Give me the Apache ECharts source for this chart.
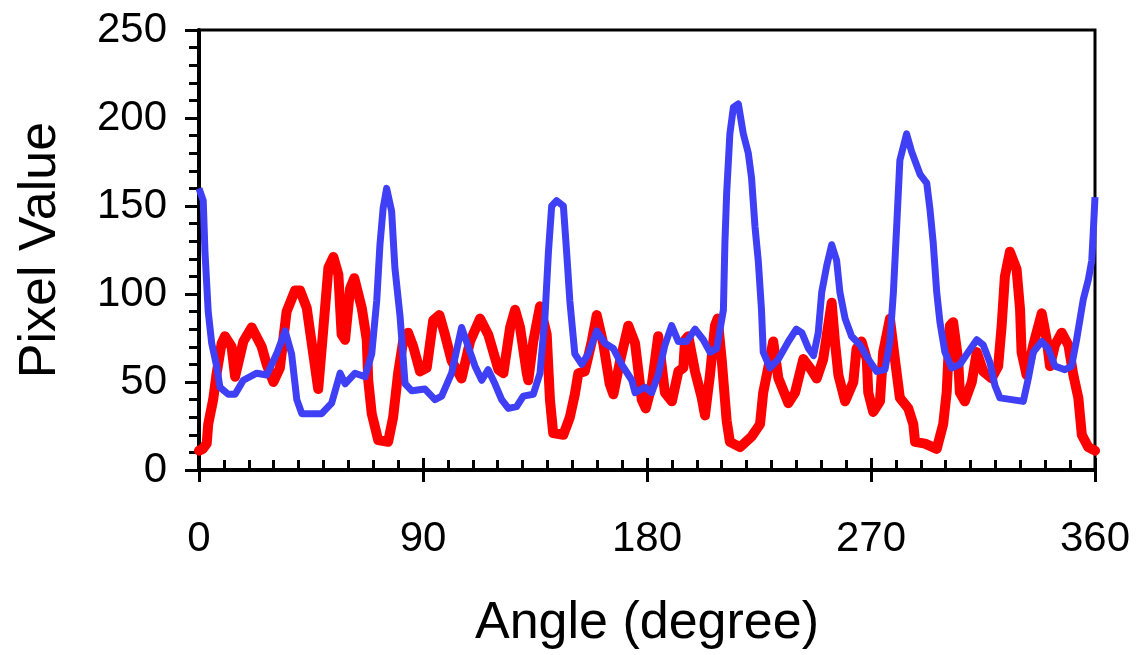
<!DOCTYPE html>
<html>
<head>
<meta charset="utf-8">
<script src="https://cdn.jsdelivr.net/npm/echarts@6/dist/echarts.min.js"></script>
<style>
html, body { margin: 0; padding: 0; background: #fff; }
#main { width: 1136px; height: 655px; }
</style>
</head>
<body>
<div id="main"></div>
<script>
// red trace (angle in degree, pixel value)
var redAngle = [0, 1.5, 3.1, 3.7, 5.7, 7.1, 9.1, 10.4, 13.1, 14.5, 17.8, 21.2, 25.2, 27.2, 29.9, 32.5, 35.2, 38.6, 40.6, 43.3,
	45.9, 47.9, 50, 52, 54, 56, 57.3, 58.7, 60.7, 62.4, 65.4, 67.4, 68, 69.4, 72, 76, 78, 80, 82, 84,
	86.1, 88.8, 91.5, 94.1, 96.6, 98.8, 101.5, 105.5, 108.9, 112.9, 116.2, 120.3, 122.3, 125, 127, 129, 131.7, 132.3, 134.3, 137,
	139.7, 141, 142.3, 146.4, 149, 151, 152.4, 155, 157.8, 159.8, 162.4, 165, 166.5, 169.2, 172.5, 175.2, 177.9, 179.5, 181.9, 184.5,
	187.2, 190, 192.6, 194.6, 195.3, 196.6, 199.3, 202, 203.3, 205.3, 207.3, 208.4, 210, 212, 213.3, 217.4, 222, 225.4, 226.7, 229.4,
	230.7, 232.8, 236.8, 239.5, 242.8, 245.5, 248.2, 250.8, 252.8, 254.2, 255.5, 256.9, 259.6, 262.9, 264.2, 266.2, 268.3, 268.9, 270.9, 273.6,
	274.9, 277.6, 279.6, 281.6, 285, 287, 287.7, 291.7, 296.4, 299, 300.4, 301.7, 303, 305, 305.7, 307.7, 310.5, 312.5, 315.1, 318.5,
	321.1, 322.5, 323.8, 325.8, 328.5, 329.9, 330.5, 332.5, 335.2, 338.6, 340.6, 341.9, 343.9, 346.6, 349.3, 351.3, 353.3, 354.7, 357.3, 360];
var redValue = [11, 12, 15, 26, 40, 55, 72, 76, 70, 53, 73, 81, 70, 60, 50, 58, 90, 102, 102, 92,
	66, 46, 81, 115, 121, 111, 77, 74, 103, 109, 92, 74, 51, 32, 17, 16, 30, 55, 73, 78,
	70, 56, 58, 85, 88, 77, 62, 52, 73, 86, 77, 57, 55, 81, 91, 81, 55, 51, 73, 93,
	77, 40, 21, 20, 30, 43, 55, 56, 73, 88, 72, 49, 43, 62, 82, 72, 40, 35, 48, 76,
	44, 39, 56, 58, 74, 76, 56, 41, 31, 54, 82, 86, 63, 28, 16, 13, 19, 26, 44, 63,
	73, 52, 38, 44, 63, 58, 52, 63, 82, 95, 73, 54, 39, 50, 69, 73, 63, 44, 33, 39,
	67, 86, 63, 41, 35, 26, 16, 15, 12, 26, 44, 82, 84, 63, 44, 39, 50, 67, 56, 52,
	59, 82, 110, 124, 114, 91, 67, 54, 71, 89, 74, 59, 71, 78, 71, 54, 41, 20, 13, 11];

// blue trace (angle in degree, pixel value)
var blueAngle = [0, 1.7, 2.4, 3.7, 5.1, 7.1, 8.4, 11.8, 14.5, 17.8, 23.2, 27.2, 31.2, 34.6, 37.2, 39.3, 41.3, 45.3, 49.3, 53.3,
	56.7, 58.7, 62.7, 66.7, 69.4, 71.4, 72.7, 74, 75.4, 77.4, 78.7, 80.8, 82.8, 85.5, 90.8, 94.8, 97.5, 101.5, 105.5, 108.2,
	110.9, 113.6, 116.2, 118.9, 121.6, 124.3, 127.6, 130.3, 134.3, 137, 139, 140.4, 141.7, 143.7, 146.4, 147.7, 149, 151, 153.8, 156.4,
	159.8, 163.1, 166.5, 169.8, 173.9, 175.2, 179.2, 181.9, 184.5, 187.2, 189.9, 192.6, 195.9, 199.3, 202.6, 205.3, 208, 210.7, 211.3, 212,
	213.3, 214.7, 216.7, 218.7, 220.7, 222, 223.4, 224.7, 226, 226.7, 229.4, 232.8, 236.8, 240, 242.2, 244.9, 246.9, 248.8, 250.2, 252.2,
	254.2, 256.2, 257.5, 259.6, 262.2, 265.6, 268.9, 272.3, 275.6, 277.6, 279, 280.3, 281.6, 284.3, 286.3, 289.7, 292.4, 293.7, 295, 296.4,
	297.7, 299.7, 302.4, 305.7, 309.1, 312.5, 315.1, 317.8, 319.8, 321.8, 326.5, 331.2, 333.2, 335.2, 338.6, 341.2, 343.9, 347.9, 350.6, 352.6,
	355.3, 357.3, 358.7, 359.3, 360];
var blueValue = [160, 153, 124, 90, 72, 59, 47, 43, 43, 51, 55, 54, 66, 79, 66, 40, 32, 32, 32, 38,
	55, 49, 55, 53, 66, 96, 128, 149, 160, 147, 115, 87, 49, 45, 46, 40, 42, 55, 81, 70,
	59, 51, 57, 49, 40, 35, 36, 42, 43, 55, 87, 124, 150, 153, 150, 124, 96, 66, 60, 66,
	79, 72, 69, 60, 51, 44, 47, 44, 54, 71, 82, 73, 73, 80, 74, 67, 69, 91, 129, 157,
	191, 206, 208, 191, 180, 166, 138, 119, 91, 67, 58, 63, 73, 80, 78, 69, 65, 78, 101, 116,
	128, 119, 101, 86, 76, 71, 63, 56, 57, 73, 101, 138, 176, 191, 181, 168, 163, 148, 129, 101,
	84, 67, 58, 60, 67, 74, 71, 61, 48, 41, 40, 39, 52, 67, 73, 69, 59, 57, 59, 74,
	97, 108, 119, 135, 155];

var xTicks = [0, 90, 180, 270, 360];
var yTicks = [0, 50, 100, 150, 200, 250];

function pairs(a, v) {
	var out = [];
	for (var i = 0; i < a.length; i++) out.push([a[i], v[i]]);
	return out;
}

var myChart = echarts.init(document.getElementById('main'));
var font = 'Liberation Sans, Arial, sans-serif';

var option = {
	animation: false,
	grid: {
		left: 199,
		right: 41,
		top: 30,
		bottom: 181,
		show: true,
		borderColor: '#000',
		borderWidth: 3,
		backgroundColor: 'transparent'
	},
	xAxis: [{
		type: 'value',
		min: xTicks[0],
		max: xTicks[xTicks.length - 1],
		interval: 90,
		name: 'Angle (degree)',
		nameLocation: 'middle',
		nameGap: 128,
		nameTextStyle: { color: '#000', fontSize: 52, fontFamily: font },
		axisLine: { show: true, onZero: false, lineStyle: { color: '#000', width: 4 } },
		axisTick: { show: true, inside: true, length: 12, lineStyle: { color: '#000', width: 3 } },
		minorTick: { show: true, splitNumber: 9, length: 10, lineStyle: { color: '#000', width: 3 } },
		axisLabel: { color: '#000', fontSize: 42, fontFamily: font, margin: 48 },
		splitLine: { show: false },
		minorSplitLine: { show: false }
	}, {
		// lower half of the major ticks
		type: 'value',
		position: 'bottom',
		min: xTicks[0],
		max: xTicks[xTicks.length - 1],
		interval: 90,
		axisLine: { show: false, onZero: false },
		axisTick: { show: true, inside: false, length: 12, lineStyle: { color: '#000', width: 3 } },
		axisLabel: { show: false },
		splitLine: { show: false }
	}],
	yAxis: {
		type: 'value',
		min: yTicks[0],
		max: yTicks[yTicks.length - 1],
		interval: 50,
		name: 'Pixel Value',
		nameLocation: 'middle',
		nameGap: 132,
		nameTextStyle: { color: '#000', fontSize: 52, fontFamily: font },
		axisLine: { show: true, onZero: false, lineStyle: { color: '#000', width: 4 } },
		axisTick: { show: true, inside: false, length: 14, lineStyle: { color: '#000', width: 3 } },
		minorTick: { show: true, splitNumber: 5, length: 10, lineStyle: { color: '#000', width: 3 } },
		axisLabel: { color: '#000', fontSize: 42, fontFamily: font, margin: 32 },
		splitLine: { show: false }
	},
	series: [{
		name: 'red',
		type: 'line',
		data: pairs(redAngle, redValue),
		showSymbol: false,
		symbol: 'none',
		lineStyle: { color: '#ff0000', width: 10, cap: 'round', join: 'round' },
		z: 2
	}, {
		name: 'blue',
		type: 'line',
		data: pairs(blueAngle, blueValue),
		showSymbol: false,
		symbol: 'none',
		lineStyle: { color: '#3f3ff5', width: 7, join: 'round' },
		z: 3
	}]
};

myChart.setOption(option);
</script>
</body>
</html>
